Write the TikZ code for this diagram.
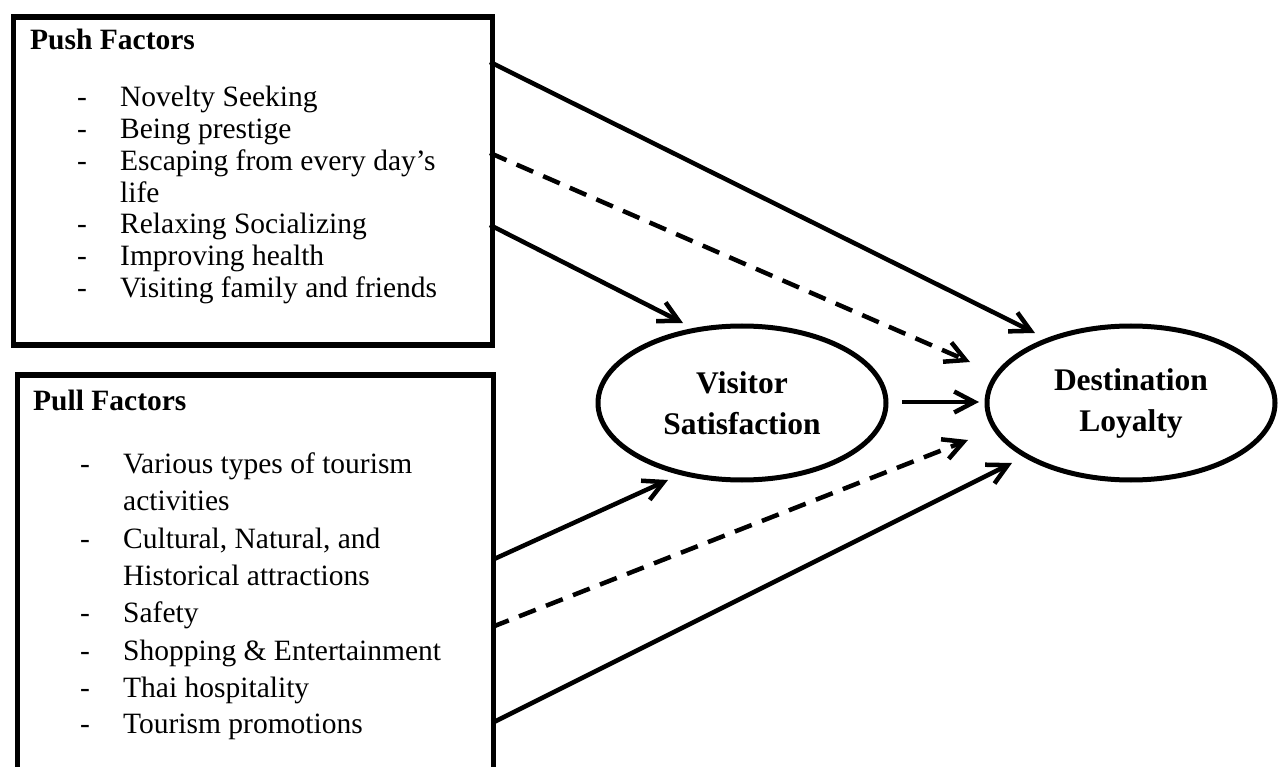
\documentclass[tikz,border=0pt]{standalone}
\usepackage{fontspec}
\setmainfont{Liberation Serif}
\usetikzlibrary{shapes.geometric,arrows.meta}
\tikzset{
  box/.style={draw, line width=5.5pt, inner sep=0pt},
  head/.style={anchor=base west, inner sep=0pt, font=\bfseries\fontsize{29.5}{31.7}\selectfont},
  item/.style={anchor=base west, inner sep=0pt, font=\fontsize{29.5}{31.7}\selectfont},
  oval/.style={draw, ellipse, line width=5pt, minimum width=288pt, minimum height=154pt, inner sep=0pt, align=center, font=\bfseries\fontsize{31.5}{41}\selectfont},
  link/.style={line width=4.5pt, -{Straight Barb[length=20pt,width=21pt,line width=4.5pt]}},
  dlink/.style={link, dash pattern=on 18pt off 11pt}
}
\newcommand{\dashitem}[1]{\makebox[43pt][l]{-}#1}
\begin{document}
\begin{tikzpicture}[x=1pt,y=-1pt]
\path[use as bounding box, clip] (0,0) rectangle (1286,767);
\fill[white] (0,0) rectangle (1286,767);
% boxes
\node[box, minimum width=479pt, minimum height=328pt, anchor=north west] (push) at (10.5,14.5) {};
\node[box, minimum width=476pt, minimum height=430pt, anchor=north west] (pull) at (14.5,372.5) {};
% push text
\node[head] (pushh) at (30,50) {Push Factors};
\node[item] (p1) at (77,107) {\dashitem{Novelty Seeking}};
\node[item] (p2) at (77,138.7) {\dashitem{Being prestige}};
\node[item] (p3) at (77,170.4) {\dashitem{Escaping from every day’s}};
\node[item] (p3b) at (120,202.1) {life};
\node[item] (p4) at (77,233.8) {\dashitem{Relaxing Socializing}};
\node[item] (p5) at (77,265.5) {\dashitem{Improving health}};
\node[item] (p6) at (77,297.2) {\dashitem{Visiting family and friends}};
% pull text
\node[head] (pullh) at (33,410) {Pull Factors};
\node[item] (q1) at (80,473) {\dashitem{Various types of tourism}};
\node[item] (q1b) at (123,510) {activities};
\node[item] (q2) at (80,548) {\dashitem{Cultural, Natural, and}};
\node[item] (q2b) at (123,585) {Historical attractions};
\node[item] (q3) at (80,622) {\dashitem{Safety}};
\node[item] (q4) at (80,660) {\dashitem{Shopping \& Entertainment}};
\node[item] (q5) at (80,697) {\dashitem{Thai hospitality}};
\node[item] (q6) at (80,733) {\dashitem{Tourism promotions}};
% ellipses
\node[oval] (vs) at (742,403) {Visitor\\Satisfaction};
\node[oval] (dl) at (1131,403) {Destination\\Loyalty};
% connector end points
\coordinate (s1) at (490,62);
\coordinate (e1) at (1035,333);
\coordinate (s2) at (490,153);
\coordinate (e2) at (970,362);
\coordinate (s3) at (490,225);
\coordinate (e3) at (683,323);
\coordinate (s4) at (902,402);
\coordinate (e4) at (979,402);
\coordinate (s5) at (492,560);
\coordinate (e5) at (668,480);
\coordinate (s6) at (492,627);
\coordinate (e6) at (968,440);
\coordinate (s7) at (492,723);
\coordinate (e7) at (1012,463);
% connectors
\draw[link] (s1) -- (e1);
\draw[dlink] (s2) -- (e2);
\draw[link] (s3) -- (e3);
\draw[link] (s4) -- (e4);
\draw[link] (s5) -- (e5);
\draw[dlink] (s6) -- (e6);
\draw[link] (s7) -- (e7);
\end{tikzpicture}
\end{document}
